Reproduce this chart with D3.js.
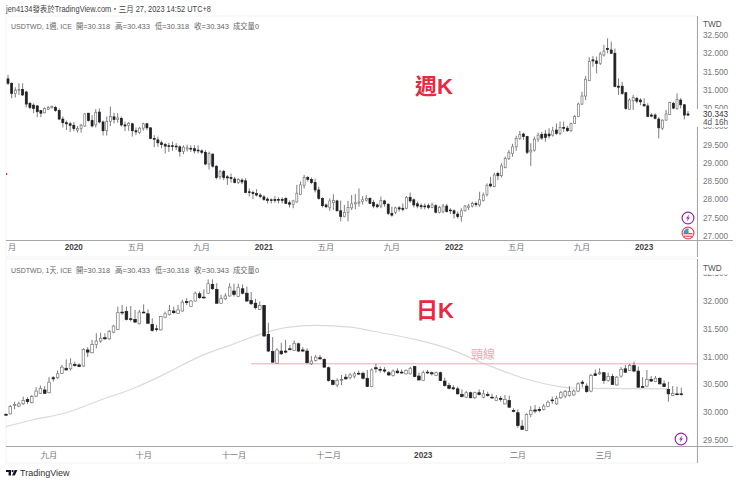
<!DOCTYPE html>
<html>
<head>
<meta charset="utf-8">
<script src="https://cdn.jsdelivr.net/npm/d3@7"></script>
<style>
html,body{margin:0;padding:0;background:#fff;}
text{font-family:"Liberation Sans","Noto Sans CJK TC",sans-serif;}
</style>
</head>
<body>
<div id="chart"></div>
<script>
const weekOpen=[31.30,31.18,30.90,30.98,31.01,30.94,30.63,30.58,30.56,30.43,
30.37,30.47,30.51,30.52,30.43,30.20,30.10,30.07,30.03,29.90,
29.94,30.01,30.36,30.16,30.04,30.39,30.12,29.88,30.13,30.26,
30.19,30.22,30.04,30.03,30.07,29.88,29.83,29.95,30.07,29.96,
29.67,29.63,29.55,29.50,29.47,29.47,29.46,29.44,29.31,29.38,
29.40,29.39,29.35,29.33,29.29,28.97,29.24,28.91,28.62,28.77,
28.62,28.60,28.56,28.46,28.53,28.51,28.21,28.19,28.16,28.12,
28.07,28.01,27.99,28.00,28.00,28.00,28.03,27.91,27.87,27.93,
28.14,28.39,28.60,28.55,28.46,28.26,28.03,27.85,27.77,27.91,
27.96,27.69,27.53,27.65,27.77,27.88,27.90,27.94,27.98,28.03,
27.92,27.85,27.82,27.96,27.87,27.62,27.65,27.77,27.76,27.76,
28.06,27.99,27.88,27.83,27.82,27.83,27.78,27.83,27.65,27.67,
27.82,27.71,27.69,27.60,27.53,27.69,27.78,27.82,27.89,27.85,
27.97,28.14,28.42,28.35,28.71,28.65,28.87,29.12,29.26,29.44,
29.67,29.79,29.72,29.30,29.35,29.65,29.78,29.79,29.79,29.76,
29.90,29.81,29.97,29.95,29.88,30.08,30.27,30.61,30.83,31.25,
31.82,31.79,31.72,31.95,32.13,32.09,32.00,31.10,31.10,30.92,
30.47,30.70,30.76,30.72,30.60,30.56,30.31,30.31,30.20,29.95,
30.17,30.32,30.63,30.49,30.72,30.59,30.34]
const weekClose=[31.18,30.90,30.99,31.01,30.86,30.61,30.52,30.49,30.40,30.36,
30.49,30.52,30.55,30.43,30.20,30.10,30.07,30.03,29.94,29.94,
30.03,30.34,30.16,30.01,30.38,30.12,29.88,30.13,30.27,30.19,
30.23,30.04,30.01,30.08,29.88,29.85,29.95,30.07,29.96,29.67,
29.65,29.55,29.50,29.46,29.45,29.45,29.44,29.31,29.43,29.41,
29.38,29.33,29.33,29.29,28.97,29.26,28.91,28.60,28.76,28.60,
28.59,28.57,28.46,28.55,28.48,28.19,28.20,28.16,28.12,28.08,
28.00,27.97,27.97,27.97,27.98,27.97,27.89,27.87,27.96,28.17,
28.40,28.60,28.55,28.46,28.26,28.03,27.83,27.80,27.96,27.97,
27.69,27.53,27.64,27.78,27.88,27.91,27.93,27.99,28.03,27.89,
27.82,27.80,27.97,27.88,27.62,27.57,27.77,27.74,27.73,28.06,
27.96,27.85,27.82,27.80,27.80,27.78,27.85,27.65,27.78,27.82,
27.67,27.69,27.62,27.53,27.69,27.82,27.82,27.89,27.86,27.99,
28.12,28.39,28.37,28.67,28.65,28.92,29.12,29.29,29.44,29.67,
29.78,29.72,29.29,29.35,29.65,29.76,29.68,29.70,29.74,29.88,
29.81,29.97,29.95,29.88,30.08,30.27,30.61,30.83,31.29,31.78,
31.79,31.72,31.98,32.06,32.10,32.00,31.09,31.07,30.90,30.49,
30.72,30.79,30.69,30.67,30.56,30.27,30.28,30.22,29.96,30.17,
30.34,30.65,30.50,30.74,30.59,30.31,30.31]
const weekHigh=[31.41,31.20,31.07,31.18,31.18,30.98,30.67,30.63,30.58,30.45,
30.52,30.56,30.57,30.56,30.49,30.27,30.16,30.12,30.12,30.01,
30.07,30.36,30.37,30.31,30.47,30.49,30.16,30.27,30.54,30.37,
30.36,30.27,30.13,30.12,30.10,29.97,29.99,30.10,30.10,29.97,
29.76,29.72,29.61,29.55,29.55,29.58,29.54,29.48,29.48,29.50,
29.48,29.48,29.48,29.37,29.35,29.31,29.26,28.94,28.81,28.81,
28.67,28.71,28.62,28.58,28.58,28.58,28.30,28.24,28.28,28.17,
28.12,28.06,28.03,28.09,28.06,28.06,28.06,27.97,27.99,28.40,
28.49,28.67,28.64,28.60,28.57,28.35,28.06,27.89,28.03,28.14,
27.99,27.97,27.85,27.96,28.12,28.15,28.30,28.09,28.12,28.06,
27.99,27.89,28.08,27.99,27.89,27.80,27.80,27.82,27.89,28.09,
28.19,28.03,27.94,27.89,27.89,27.89,27.91,27.87,27.82,27.88,
27.88,27.76,27.73,27.67,27.76,27.85,27.88,27.94,27.94,28.21,
28.19,28.44,28.62,28.73,28.76,28.99,29.17,29.35,29.52,29.74,
29.88,29.83,29.74,29.54,29.72,29.83,29.85,29.90,29.95,29.99,
30.08,30.13,30.13,30.01,30.10,30.31,30.65,30.95,31.38,31.89,
31.92,31.91,32.04,32.23,32.41,32.32,32.13,31.31,31.22,30.95,
30.77,30.86,30.81,30.77,30.77,30.63,30.36,30.36,30.25,30.19,
30.45,30.67,30.67,30.90,30.77,30.61,30.42]
const weekLow=[31.13,30.77,30.79,30.86,30.83,30.52,30.47,30.36,30.25,30.25,
30.36,30.45,30.49,30.40,30.17,29.97,29.90,29.85,29.87,29.83,
29.83,29.99,30.13,29.97,29.97,30.08,29.75,29.75,30.01,30.08,
30.10,29.99,29.87,29.88,29.72,29.76,29.79,29.88,29.90,29.65,
29.43,29.44,29.40,29.26,29.30,29.33,29.35,29.17,29.24,29.31,
29.30,29.26,29.26,29.24,28.94,28.82,28.87,28.55,28.55,28.53,
28.40,28.46,28.44,28.42,28.42,28.17,28.08,28.01,28.08,28.03,
27.96,27.89,27.89,27.91,27.89,27.89,27.88,27.78,27.76,27.91,
28.12,28.30,28.49,28.42,28.19,27.99,27.78,27.76,27.69,27.71,
27.67,27.40,27.51,27.40,27.71,27.73,27.80,27.86,27.94,27.88,
27.76,27.76,27.76,27.80,27.57,27.53,27.60,27.67,27.67,27.73,
27.91,27.78,27.76,27.73,27.73,27.73,27.76,27.62,27.62,27.62,
27.64,27.60,27.48,27.48,27.39,27.67,27.71,27.78,27.80,27.80,
27.94,28.08,28.33,28.33,28.53,28.60,28.85,29.08,29.17,29.33,
29.63,29.63,29.24,28.91,29.31,29.58,29.63,29.58,29.67,29.72,
29.76,29.76,29.85,29.85,29.85,30.07,30.25,30.58,30.72,31.25,
31.63,31.45,31.68,31.91,32.00,31.98,31.07,30.86,30.86,30.45,
30.45,30.45,30.63,30.58,30.54,30.25,30.25,30.19,29.67,29.90,
30.16,30.31,30.47,30.45,30.49,30.19,30.28]

const dayOpen=[29.96,29.97,30.12,30.11,30.15,30.23,30.17,30.29,30.34,30.40,
30.35,30.62,30.62,30.70,30.79,30.78,30.86,30.85,30.83,31.12,
31.07,31.22,31.28,31.34,31.32,31.44,31.49,31.80,31.81,31.68,
31.67,31.59,31.80,31.77,31.58,31.50,31.48,31.71,31.76,31.82,
31.78,31.82,31.99,31.90,32.00,32.13,32.07,32.14,32.30,32.21,
31.96,32.04,32.09,32.18,32.08,32.22,32.14,32.01,31.96,31.85,
31.92,31.40,31.09,30.88,31.10,31.10,31.14,31.11,31.23,31.12,
31.10,30.87,30.93,30.98,30.95,30.80,30.57,30.49,30.58,30.63,
30.62,30.65,30.70,30.70,30.61,30.46,30.80,30.77,30.76,30.71,
30.66,30.74,30.72,30.69,30.69,30.82,30.65,30.57,30.72,30.71,
30.66,30.71,30.56,30.48,30.44,30.42,30.32,30.27,30.35,30.26,
30.35,30.27,30.32,30.27,30.21,30.25,30.15,30.21,30.03,29.99,
29.75,29.67,29.96,30.04,30.05,30.05,30.10,30.22,30.15,30.26,
30.29,30.30,30.31,30.38,30.54,30.47,30.38,30.69,30.69,30.71,
30.57,30.64,30.49,30.65,30.78,30.75,30.84,30.74,30.46,30.47,
30.59,30.55,30.61,30.51,30.41,30.30,30.33,30.33]
const dayClose=[29.95,30.10,30.14,30.15,30.21,30.19,30.28,30.38,30.43,30.34,
30.54,30.60,30.69,30.81,30.76,30.87,30.84,30.82,31.13,31.08,
31.22,31.28,31.33,31.32,31.45,31.55,31.79,31.79,31.67,31.67,
31.62,31.80,31.79,31.60,31.47,31.49,31.72,31.77,31.83,31.79,
31.84,31.98,31.97,32.00,32.14,32.06,32.06,32.31,32.22,31.96,
32.04,32.09,32.25,32.12,32.24,32.14,32.00,31.95,31.88,31.92,
31.37,31.10,30.90,31.12,31.05,31.08,31.13,31.24,31.10,31.10,
30.89,30.92,30.99,30.96,30.81,30.57,30.50,30.57,30.59,30.60,
30.67,30.69,30.69,30.61,30.46,30.76,30.78,30.76,30.74,30.67,
30.74,30.71,30.71,30.75,30.79,30.64,30.58,30.71,30.71,30.69,
30.71,30.57,30.48,30.43,30.42,30.33,30.28,30.35,30.26,30.35,
30.32,30.33,30.30,30.26,30.26,30.23,30.23,30.09,30.02,29.76,
29.69,29.96,30.03,30.02,30.03,30.11,30.18,30.21,30.25,30.35,
30.37,30.37,30.38,30.51,30.52,30.37,30.66,30.66,30.71,30.57,
30.64,30.50,30.63,30.77,30.72,30.84,30.74,30.45,30.45,30.59,
30.56,30.61,30.51,30.46,30.33,30.34,30.32,30.32]
const dayHigh=[29.98,30.13,30.19,30.19,30.28,30.27,30.31,30.45,30.48,30.47,
30.63,30.65,30.75,30.85,30.95,30.97,30.91,30.88,31.15,31.17,
31.30,31.42,31.43,31.42,31.48,31.57,31.90,31.93,31.90,31.91,
31.84,31.84,31.94,31.85,31.69,31.57,31.73,31.81,31.93,31.90,
31.93,32.02,32.05,32.02,32.17,32.17,32.21,32.39,32.39,32.32,
32.11,32.14,32.32,32.31,32.31,32.30,32.26,32.16,32.04,31.99,
31.93,31.61,31.35,31.15,31.25,31.30,31.21,31.29,31.25,31.17,
31.15,31.01,31.03,31.03,30.97,30.82,30.59,30.61,30.67,30.69,
30.71,30.73,30.75,30.73,30.76,30.79,30.87,30.82,30.81,30.74,
30.77,30.79,30.77,30.77,30.82,30.83,30.71,30.75,30.76,30.73,
30.73,30.73,30.62,30.53,30.49,30.46,30.41,30.38,30.37,30.37,
30.41,30.40,30.37,30.33,30.31,30.29,30.31,30.30,30.07,30.05,
29.86,29.98,30.11,30.13,30.10,30.15,30.21,30.28,30.29,30.38,
30.40,30.47,30.41,30.54,30.58,30.52,30.69,30.77,30.79,30.72,
30.71,30.69,30.65,30.81,30.85,30.87,30.91,30.82,30.63,30.76,
30.65,30.65,30.63,30.57,30.55,30.47,30.46,30.44]
const dayLow=[29.94,29.96,30.05,30.09,30.13,30.15,30.16,30.27,30.33,30.33,
30.34,30.55,30.60,30.69,30.75,30.75,30.82,30.81,30.82,30.99,
31.06,31.15,31.25,31.30,31.30,31.42,31.48,31.75,31.65,31.63,
31.61,31.58,31.78,31.59,31.45,31.45,31.47,31.69,31.74,31.77,
31.77,31.81,31.93,31.89,31.99,32.04,32.04,32.13,32.20,31.95,
31.95,32.02,32.08,32.08,32.07,32.12,31.98,31.93,31.85,31.84,
31.36,31.08,30.89,30.87,31.03,31.06,31.11,31.10,31.08,31.08,
30.88,30.85,30.91,30.94,30.80,30.55,30.48,30.45,30.49,30.58,
30.59,30.61,30.67,30.59,30.45,30.45,30.71,30.71,30.71,30.65,
30.64,30.69,30.69,30.68,30.68,30.63,30.57,30.56,30.69,30.66,
30.65,30.56,30.46,30.41,30.40,30.32,30.27,30.26,30.25,30.24,
30.30,30.25,30.28,30.24,30.20,30.19,30.14,30.08,30.00,29.72,
29.68,29.66,29.91,29.98,30.00,30.03,30.09,30.15,30.13,30.24,
30.25,30.28,30.30,30.36,30.45,30.35,30.36,30.65,30.67,30.51,
30.55,30.49,30.48,30.62,30.71,30.74,30.72,30.44,30.44,30.45,
30.54,30.54,30.50,30.45,30.19,30.29,30.30,30.30]

// moving average of the daily pane, read at these bars
const maBar=[0,6,14,22,30,37,45,53,59,65,72,80,85,95,103,111,120,128,131,136,154]
const maValue=[29.74,29.86,29.99,30.22,30.44,30.69,31.00,31.23,31.40,31.52,31.56,31.53,31.46,31.31,31.14,30.88,30.62,30.47,30.44,30.43,30.42]
const necklineBars=[57,157]
const necklinePrice=30.87

const weekTicks=[27,27.5,28,28.5,29,29.5,30,30.5,31,31.5,32,32.5]
const dayTicks=[29.5,30,30.5,31,31.5,32,32.5]
const weekDateBars=[0,18,35,53,70,87,105,122,139,157,174]
const weekDateLabels=["一月","2020","五月","九月","2021","五月","九月","2022","五月","九月","2023"]
const dayDateBars=[10,32,53,75,97,119,139]
const dayDateLabels=["九月","十月","十一月","十二月","2023","二月","三月"]

const CBLACK="#202024"
const CWICK="#5c5c60"
const CHOLLOW="#77777a"
const CAXIS="#a6a6a8"
const CLABEL="#77777c"
const CRED="#e8293f"
const CPURPLE="#9c27b0"

const svg=d3.select("#chart").append("svg")
  .attr("width",740).attr("height",484)
  .attr("viewBox",[0,0,740,484])
  .style("display","block")

const defs=svg.append("defs")
defs.append("clipPath").attr("id","weekDates").append("rect")
  .attr("x",8).attr("y",241).attr("width",689).attr("height",16)

// pane frames
function frame(top,bottom){
  svg.append("rect").attr("x",6).attr("y",top).attr("width",691).attr("height",bottom-top)
    .attr("fill","none").attr("stroke","#f3f3f3").attr("stroke-width",1)
}
frame(16,257)
frame(259,463)

function candles(opts){
  const {x,y,open,close,high,low,w}=opts
  const g=svg.append("g")
  const bars=d3.range(open.length)
  g.selectAll("line").data(bars).join("line")
    .attr("x1",i=>x(i)).attr("x2",i=>x(i))
    .attr("y1",i=>y(high[i])).attr("y2",i=>y(low[i]))
    .attr("stroke",CWICK).attr("stroke-width",0.8)
  g.selectAll("rect").data(bars).join("rect")
    .attr("x",i=>x(i)-w/2)
    .attr("y",i=>y(Math.max(open[i],close[i])))
    .attr("width",w)
    .attr("height",i=>Math.max(0.8,Math.abs(y(open[i])-y(close[i]))))
    .attr("fill",i=>close[i]>=open[i]?"#fff":CBLACK)
    .attr("stroke",i=>close[i]>=open[i]?CHOLLOW:CBLACK)
    .attr("stroke-width",0.7)
}

function priceAxis(y,ticks){
  svg.append("g").selectAll("text").data(ticks).join("text")
    .attr("x",703).attr("y",d=>y(d)+3)
    .attr("font-size",8.2).attr("fill",CLABEL)
    .text(d=>d3.format(".3f")(d))
}

function dateAxis(x,bars,labels,yPos,clip){
  const g=svg.append("g")
  if(clip) g.attr("clip-path","url(#"+clip+")")
  g.selectAll("text").data(bars).join("text")
    .attr("x",d=>x(d)).attr("y",yPos)
    .attr("text-anchor","middle").attr("font-size",8.2)
    .attr("fill",(d,i)=>/^\d/.test(labels[i])?"#444":CLABEL)
    .attr("font-weight",(d,i)=>/^\d/.test(labels[i])?"bold":"normal")
    .text((d,i)=>labels[i])
}

// weekly pane
const xWeek=d3.scaleLinear().domain([0,186]).range([8,688])
const yWeek=d3.scaleLinear().domain([27,32.5]).range([236,35])
priceAxis(yWeek,weekTicks)
candles({x:xWeek,y:yWeek,open:weekOpen,close:weekClose,high:weekHigh,low:weekLow,w:2})
dateAxis(xWeek,weekDateBars,weekDateLabels,250,"weekDates")

// daily pane
const xDay=d3.scaleLinear().domain([0,157]).range([6,681.3])
const yDay=d3.scaleLinear().domain([29.5,32]).range([440,301])
const maLine=d3.line().x((d,i)=>xDay(maBar[i])).y(d=>yDay(d)).curve(d3.curveMonotoneX)
svg.append("path").attr("d",maLine(maValue))
  .attr("fill","none").attr("stroke","#dcdad8").attr("stroke-width",1.2)
priceAxis(yDay,dayTicks)
// the 32.500 label is cut by the pane header in the source
svg.append("rect").attr("x",700).attr("y",259.5).attr("width",34).attr("height",15).attr("fill","#fff")
svg.append("line").attr("x1",xDay(necklineBars[0])).attr("x2",697)
  .attr("y1",yDay(necklinePrice)).attr("y2",yDay(necklinePrice))
  .attr("stroke","#f2a7ae").attr("stroke-width",1)
candles({x:xDay,y:yDay,open:dayOpen,close:dayClose,high:dayHigh,low:dayLow,w:2.6})
dateAxis(xDay,dayDateBars,dayDateLabels,458)

// axis lines
function rule(x1,y1,x2,y2){
  svg.append("line").attr("x1",x1).attr("y1",y1).attr("x2",x2).attr("y2",y2)
    .attr("stroke",CAXIS).attr("stroke-width",1)
}
rule(6,240.5,733,240.5)
rule(6,446.5,733,446.5)
rule(697.5,16,697.5,257)
rule(697.5,259,697.5,463)

// last price tag
svg.append("rect").attr("x",695).attr("y",109).attr("width",38).attr("height",18).attr("fill","#fff")
svg.append("text").attr("x",703).attr("y",117).attr("font-size",8.2).attr("fill","#333").text("30.343")
svg.append("text").attr("x",703).attr("y",125).attr("font-size",8.2).attr("fill","#555").text("4d 16h")

svg.append("text").attr("x",703).attr("y",27).attr("font-size",8.2).attr("fill","#555").text("TWD")
svg.append("text").attr("x",703).attr("y",271).attr("font-size",8.2).attr("fill","#555").text("TWD")

// headers
svg.append("text").attr("x",6).attr("y",12).attr("font-size",8.2).attr("fill","#444")
  .attr("textLength",205).attr("lengthAdjust","spacingAndGlyphs")
  .text("jen4134發表於TradingView.com・三月 27, 2023 14:52 UTC+8")
function legend(yPos,tf){
  const g=svg.append("g").attr("font-size",8).attr("fill","#666")
  const piece=(x,len,s)=>g.append("text").attr("x",x).attr("y",yPos)
    .attr("textLength",len).attr("lengthAdjust","spacingAndGlyphs").text(s)
  piece(11,61,"USDTWD, "+tf+", ICE")
  piece(76,34,"開=30.318")
  piece(115,35,"高=30.433")
  piece(155,34,"低=30.318")
  piece(194,35,"收=30.343")
  piece(233,26,"成交量0")
}
legend(29,"1週")
legend(273,"1天")

// red notes
svg.append("text").attr("x",434).attr("y",94).attr("text-anchor","middle")
  .attr("font-size",22).attr("font-weight","bold").attr("fill",CRED).text("週K")
svg.append("text").attr("x",435).attr("y",318).attr("text-anchor","middle")
  .attr("font-size",22).attr("font-weight","bold").attr("fill",CRED).text("日K")
svg.append("text").attr("x",483).attr("y",359).attr("text-anchor","middle")
  .attr("font-size",12).attr("fill","#f3a6b0").text("頸線")

// left edge marker
svg.append("rect").attr("x",6).attr("y",173).attr("width",1.2).attr("height",2).attr("fill",CRED)

// event icons
function bolt(cx,cy){
  const g=svg.append("g").attr("transform","translate("+cx+","+cy+")")
  g.append("circle").attr("r",5.9).attr("fill","#fff").attr("stroke",CPURPLE).attr("stroke-width",1.2)
  g.append("path").attr("d","M1.2,-3.6L-2,0.6H-0.2L-1.2,3.6L2,-0.6H0.2Z").attr("fill",CPURPLE)
}
bolt(688,218)
bolt(681,439)

const flag=svg.append("g").attr("transform","translate(688,233)")
flag.append("circle").attr("r",5.9).attr("fill","#fff").attr("stroke","#e8495a").attr("stroke-width",1.2)
flag.append("rect").attr("x",-4.5).attr("y",0).attr("width",9).attr("height",1.3).attr("fill","#e8495a")
flag.append("rect").attr("x",-4).attr("y",2.6).attr("width",8).attr("height",1.2).attr("fill","#e8495a")
flag.append("path").attr("d","M-4.5,0A4.5,4.5 0 0 1 0.5,-4.4V0Z").attr("fill","#4a90d9")

// tradingview mark
const logo=svg.append("g").attr("transform","translate(6,470)").attr("fill","#131722")
logo.append("path").attr("d","M0,0H5V5.5H2.6V2H0Z")
logo.append("circle").attr("cx",6.6).attr("cy",1.1).attr("r",1.1)
logo.append("path").attr("d","M8.6,0H11.4L8.8,5.5H6Z")
svg.append("text").attr("x",20).attr("y",476).attr("font-size",9).attr("fill","#333").text("TradingView")
</script>
</body>
</html>
